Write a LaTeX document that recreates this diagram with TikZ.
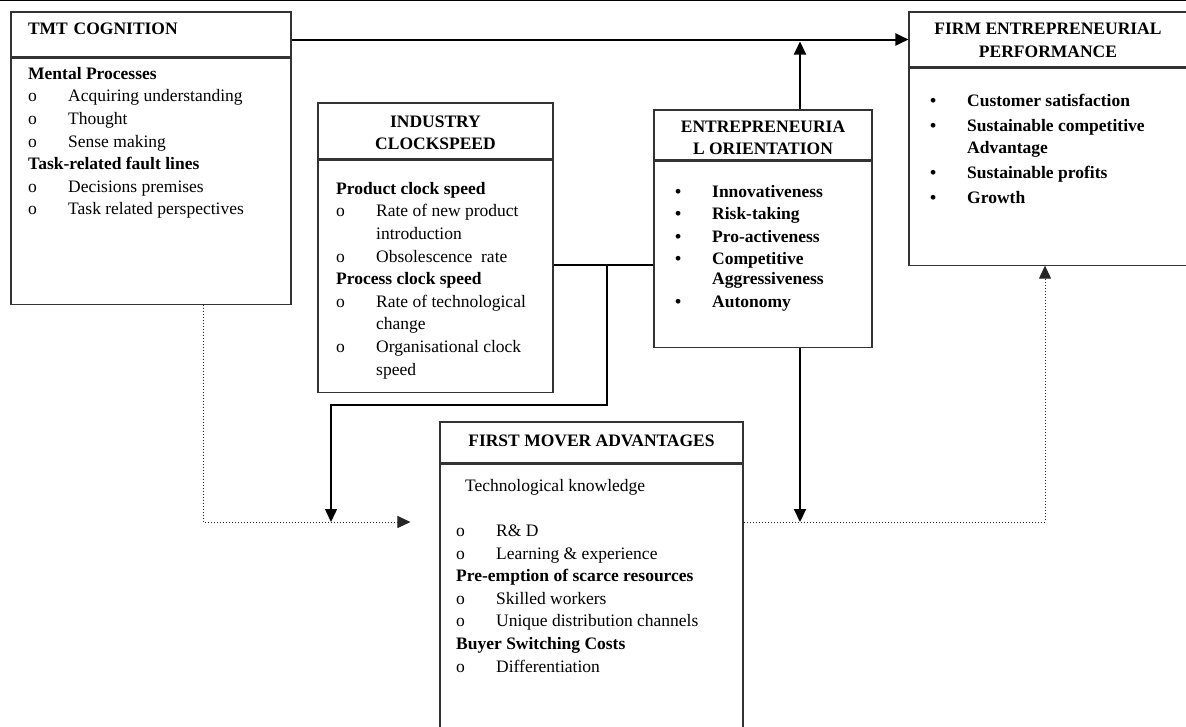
\documentclass[tikz,border=0pt]{standalone}
\usepackage{fontspec}
\setmainfont{Liberation Serif}
\usetikzlibrary{calc,arrows.meta}

\newcommand{\ob}{\makebox[40pt][l]{o}}
\newcommand{\bb}{\makebox[37pt][l]{\textbullet}}

\begin{document}
\begin{tikzpicture}[x=1pt,y=-1pt,
  hd/.style={draw=black!80,line width=1.1pt,inner sep=0pt,align=center,
    font=\fontsize{17.5}{22.5}\selectfont\bfseries},
  bd/.style={draw=black!80,line width=1.1pt,inner sep=0pt,anchor=north},
  lst/.style={anchor=north west,inner sep=0pt,align=left,
    font=\fontsize{17.5}{22.6}\selectfont},
  arr/.style={line width=2pt,-{Triangle[length=13pt,width=12pt]}},
  dot/.style={dotted,line width=1pt,black!85,-{Triangle[length=13pt,width=12pt]}}]
  \clip (0,0) rectangle (1186,726);
  \draw[line width=1.5pt] (0,0.5) -- (1186,0.5);

  % boxes
  \node[hd,minimum width=280pt,minimum height=45pt,text width=246pt,align=left] (tmth) at (151,34.5) {TMT COGNITION\rule[-11pt]{0pt}{11pt}};
  \node[bd,minimum width=280pt,minimum height=246pt] (tmtb) at (tmth.south) {};
  \node[hd,minimum width=235pt,minimum height=56pt] (indh) at (435.5,131) {\rule{0pt}{15.6pt}INDUSTRY\\CLOCKSPEED};
  \node[bd,minimum width=235pt,minimum height=232pt] (indb) at (indh.south) {};
  \node[hd,minimum width=218pt,minimum height=50pt] (eoh) at (763,135) {\rule{0pt}{17.6pt}ENTREPRENEURIA\\L ORIENTATION};
  \node[bd,minimum width=218pt,minimum height=186pt] (eob) at (eoh.south) {};
  \node[hd,minimum width=278pt,minimum height=55pt] (firmh) at (1048,39.5) {\rule{0pt}{13.6pt}FIRM ENTREPRENEURIAL\\PERFORMANCE};
  \node[bd,minimum width=278pt,minimum height=197pt] (firmb) at (firmh.south) {};
  \node[hd,minimum width=303pt,minimum height=41pt] (fmah) at (591.5,442.5) {FIRST MOVER ADVANTAGES\rule[-4pt]{0pt}{4pt}};
  \node[bd,minimum width=303pt,minimum height=280pt] (fmab) at (fmah.south) {};

  % lists
  \node[lst] (tmtl) at (28,67) {\textbf{Mental Processes}\\
    \ob Acquiring understanding\\
    \ob Thought\\
    \ob Sense making\\
    \textbf{Task-related fault lines}\\
    \ob Decisions premises\\
    \ob Task related perspectives};
  \node[lst] (indl) at (336,182) {\textbf{Product clock speed}\\
    \ob Rate of new product\\
    \hspace*{40pt}introduction\\
    \ob Obsolescence\ \ rate\\
    \textbf{Process clock speed}\\
    \ob Rate of technological\\
    \hspace*{40pt}change\\
    \ob Organisational clock\\
    \hspace*{40pt}speed};
  \node[lst,font=\fontsize{17.5}{22.6}\selectfont\bfseries] (eol) at (675,185) {\bb Innovativeness\\
    \bb Risk-taking\\
    \bb Pro-activeness\\[-0.5pt]
    \bb Competitive\\[-3pt]
    \hspace*{37pt}Aggressiveness\\[1pt]
    \bb Autonomy};
  \node[lst,font=\fontsize{17.5}{22}\selectfont\bfseries] (firml) at (930,94) {\bb Customer satisfaction\\[3pt]
    \bb Sustainable competitive\\
    \hspace*{37pt}Advantage\\[3pt]
    \bb Sustainable profits\\[3pt]
    \bb Growth};
  \node[lst] (fmal) at (456,479) {\hspace*{9pt}Technological knowledge\\[22.6pt]
    \ob R\& D\\
    \ob Learning \& experience\\
    \textbf{Pre-emption of scarce resources}\\
    \ob Skilled workers\\
    \ob Unique distribution channels\\
    \textbf{Buyer Switching Costs}\\
    \ob Differentiation};

  % connectors
  \coordinate (lvl) at (0,522);
  \coordinate (mid) at (0,265);
  \coordinate (brk) at (607,265);
  \coordinate (turn) at (331,405);
  \coordinate (eotop) at ([xshift=37pt]eoh.north);
  \coordinate (eobot) at ([xshift=37pt]eob.south);
  \coordinate (tmtdn) at ([xshift=52pt]tmtb.south);
  \coordinate (fmain) at ([xshift=-29pt]fmab.west);
  \coordinate (fpup) at ([xshift=-3pt]firmb.south);

  \draw[arr] (tmth.east |- firmh.west) -- (firmh.west);
  \draw[arr] (eotop) -- ([yshift=-2pt]eotop |- firmh.west);
  \draw[arr] (eobot) -- (eobot |- lvl);
  \draw[line width=1.2pt] (indb.east |- mid) -- (eob.west |- mid);
  \draw[arr,line width=1.5pt] (brk) |- (turn) -- (turn |- lvl);
  \draw[dot] (tmtdn) |- (fmain |- lvl);
  \draw[dot] (fmab.east |- lvl) -| (fpup);
\end{tikzpicture}
\end{document}
